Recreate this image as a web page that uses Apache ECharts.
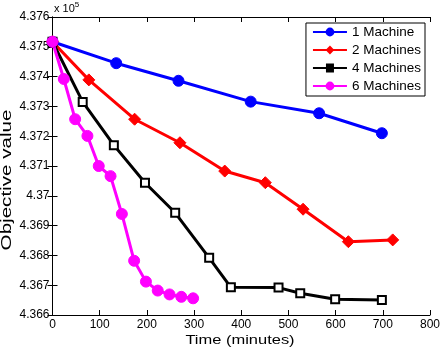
<!DOCTYPE html>
<html><head><meta charset="utf-8">
<script src="https://cdn.jsdelivr.net/npm/echarts@6/dist/echarts.min.js"></script>
<style>html,body{margin:0;padding:0;background:#fff}#c{width:440px;height:350px}</style>
</head><body><div id="c"></div>
<script>
// values in units of 10^5
const seriesNames = ['1 Machine', '2 Machines', '4 Machines', '6 Machines'];
const t1 = [0, 135, 267, 420, 565, 698];
const v1 = [4.37517, 4.37445, 4.37386, 4.37316, 4.37277, 4.37210];
const t2 = [0, 77, 174, 270, 365, 451, 531, 627, 721];
const v2 = [4.37517, 4.37389, 4.37257, 4.37178, 4.37083, 4.37044, 4.36955, 4.36846, 4.36852];
const t4 = [0, 64, 130, 196, 260, 332, 378, 479, 525, 599, 698];
const v4 = [4.37517, 4.37315, 4.37170, 4.37044, 4.36943, 4.36792, 4.36693, 4.36692, 4.36673, 4.36653, 4.36650];
const t6 = [0, 24, 48, 74, 98, 123, 147, 173, 198, 223, 248, 273, 298];
const v6 = [4.37517, 4.37392, 4.37257, 4.37201, 4.37100, 4.37066, 4.36939, 4.36782, 4.36712, 4.36682, 4.36669, 4.36661, 4.36656];
const xTicks = [0, 100, 200, 300, 400, 500, 600, 700, 800];
const yTicks = [4.366, 4.367, 4.368, 4.369, 4.370, 4.371, 4.372, 4.373, 4.374, 4.375, 4.376];
const xTitle = 'Time (minutes)';
const yTitle = 'Objective value';

const font = 'Liberation Sans, Arial, sans-serif';
const zip = (a, b) => a.map((x, i) => [x, b[i]]);
const chart = echarts.init(document.getElementById('c'));
const axisCommon = {
  axisLine: {show: true, lineStyle: {color: '#000', width: 1}},
  axisTick: {show: true, inside: true, length: 5, lineStyle: {color: '#000'}},
  splitLine: {show: false}
};
const mk = (name, data, color, symbol, size, extra) => Object.assign({
  name, type: 'line', data, symbol, symbolSize: size, showSymbol: true,
  lineStyle: {color, width: 3}, itemStyle: {color, borderColor: color},
  animation: false, z: 3
}, extra || {});
chart.setOption({
  animation: false,
  grid: {left: 52.5, right: 10, top: 17, bottom: 35, containLabel: false, outerBoundsMode: 'none'},
  xAxis: [
    Object.assign({type: 'value', min: xTicks[0], max: xTicks[xTicks.length - 1], interval: 100, position: 'bottom',
      axisLabel: {fontFamily: font, fontSize: 12, color: '#000', margin: 4}}, axisCommon),
    Object.assign({type: 'value', min: xTicks[0], max: xTicks[xTicks.length - 1], interval: 100, position: 'top',
      axisLabel: {show: false}}, axisCommon)
  ],
  yAxis: [
    Object.assign({type: 'value', min: yTicks[0], max: yTicks[yTicks.length - 1], interval: 0.001, position: 'left',
      axisLabel: {fontFamily: font, fontSize: 12, color: '#000', margin: 3,
        formatter: v => String(parseFloat(v.toFixed(3)))}}, axisCommon),
    Object.assign({type: 'value', min: yTicks[0], max: yTicks[yTicks.length - 1], interval: 0.001, position: 'right',
      axisLabel: {show: false}}, axisCommon)
  ],
  legend: {
    data: [seriesNames[0], seriesNames[1],
      {name: seriesNames[2], itemStyle: {color: '#000', borderWidth: 0}, icon: 'path://M0,4.5L34,4.5L34,6.5L0,6.5Z M13,1L21,1L21,10L13,10Z'},
      seriesNames[3]],
    orient: 'vertical', right: 15, top: 23,
    backgroundColor: '#fff', borderColor: '#000', borderWidth: 1, borderRadius: 0,
    padding: [2, 4, 3, 6], itemGap: 4, itemWidth: 34, itemHeight: 11,
    textStyle: {fontFamily: font, fontSize: 13.5, color: '#000', lineHeight: 14}
  },
  graphic: [{
    type: 'text', left: 54, top: 1,
    style: {text: '{a|x 10}{b|5}', rich: {a: {fontFamily: font, fontSize: 11, fill: '#000'},
      b: {fontFamily: font, fontSize: 8, fill: '#000', verticalAlign: 'top', padding: [0, 0, 8, 0]}}}
  }, {
    type: 'text', x: 240, y: 340, scaleX: 1.22,
    style: {text: xTitle, fontFamily: font, fontSize: 13.5, fill: '#000', align: 'center', verticalAlign: 'middle'}
  }, {
    type: 'text', x: 7, y: 180, rotation: Math.PI / 2, scaleX: 1.42,
    style: {text: yTitle, fontFamily: font, fontSize: 14.5, fill: '#000', align: 'center', verticalAlign: 'middle'}
  }],
  series: [
    mk(seriesNames[0], zip(t1, v1), '#0000ff', 'circle', 11),
    mk(seriesNames[1], zip(t2, v2), '#ff0000', 'diamond', 12),
    mk(seriesNames[2], zip(t4, v4), '#000000', 'emptyRect', 8, {itemStyle: {color: '#000', borderColor: '#000', borderWidth: 3}}),
    mk(seriesNames[3], zip(t6, v6), '#ff00ff', 'circle', 11)
  ]
});
</script></body></html>
